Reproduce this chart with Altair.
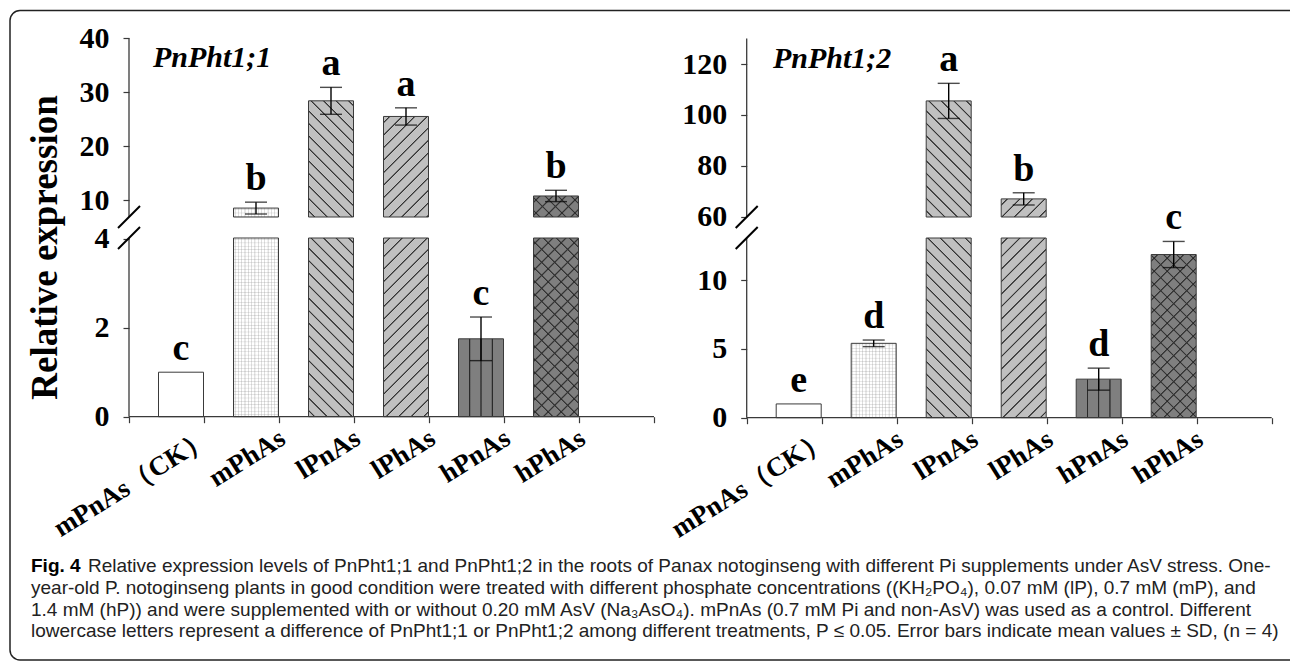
import altair as alt
import pandas as pd

# ---------------- data ----------------
treatments = ["mPnAs（CK）", "mPhAs", "lPnAs", "lPhAs", "hPnAs", "hPhAs"]
patterns = ["plain", "dots", "back", "fwd", "vert", "cross"]

pht11_mean = [1.0, 8.5, 28.4, 25.5, 1.75, 10.75]
pht11_sd = [0.0, 1.1, 2.5, 1.6, 0.49, 1.05]
pht11_letter = ["c", "b", "a", "a", "c", "b"]

pht12_mean = [1.0, 5.4, 105.5, 67.0, 2.8, 11.85]
pht12_sd = [0.0, 0.24, 6.9, 2.4, 0.8, 0.95]
pht12_letter = ["e", "d", "a", "b", "d", "c"]

genes = ["PnPht1;1", "PnPht1;2"]
pht11_ticks_upper = [10, 20, 30, 40]
pht11_ticks_lower = [0, 2, 4]
pht12_ticks_upper = [60, 80, 100, 120]
pht12_ticks_lower = [0, 5, 10]
y_title = "Relative expression"

caption_head = "Fig. 4"
caption_lines = [
    "Relative expression levels of PnPht1;1 and PnPht1;2 in the roots of Panax notoginseng with different Pi supplements under AsV stress. One-",
    "year-old P. notoginseng plants in good condition were treated with different phosphate concentrations ((KH₂PO₄), 0.07 mM (lP), 0.7 mM (mP), and",
    "1.4 mM (hP)) and were supplemented with or without 0.20 mM AsV (Na₃AsO₄). mPnAs (0.7 mM Pi and non-AsV) was used as a control. Different",
    "lowercase letters represent a difference of PnPht1;1 or PnPht1;2 among different treatments, P ≤ 0.05. Error bars indicate mean values ± SD, (n = 4)",
]

# ---------------- layout / style ----------------
W, H = 1290, 662
STEP = 75
SLOTS = treatments + [" "]
N_BANDS = 16
BAR_W = 45
BAR_DX = 14.5
CUT_TOP_PX = 217   # lower edge of the upper segment
CUT_BOT_PX = 238   # upper edge of the lower segment
SERIF = "Liberation Serif"
SANS = "Liberation Sans"
CAP_SIZE = 19
EDGE = "#3a3a3a"
LIGHT = "#c0c0c0"
DARK = "#7f7f7f"
HATCH = "#333333"
CLEAR = "rgba(0,0,0,0)"


def stripe_stops(total, period, phase, bg, fg, core, half):
    stops = [{"offset": 0.0, "color": bg}]
    c = phase
    while c - half < total:
        for pos, col in ((c - half, bg), (c - core, fg), (c + core, fg), (c + half, bg)):
            if 0 < pos < total:
                stops.append({"offset": round(pos / total, 5), "color": col})
        c += period
    stops.append({"offset": 1.0, "color": bg})
    return stops


def diag_fill(w, h, period, bg, fg, direction):
    a = w * (w + h) / (w * w + h * h)
    if direction == "back":
        x1, y1, x2, y2 = 0, 1, a, 1 - a * h / w
    else:
        x1, y1, x2, y2 = 0, 0, a, a * h / w
    return {"gradient": "linear", "x1": x1, "y1": y1, "x2": round(x2, 5), "y2": round(y2, 5),
            "stops": stripe_stops(w + h, period, period / 2, bg, fg, 0.4, 1.2)}


def straight_fill(length, period, phase, bg, fg, vertical_lines, core=0.3, half=0.9):
    return {"gradient": "linear", "x1": 0, "y1": 0,
            "x2": 1 if vertical_lines else 0, "y2": 0 if vertical_lines else 1,
            "stops": stripe_stops(length, period, phase, bg, fg, core, half)}


def fills_for(pattern, w, h):
    if pattern == "plain":
        return ["white"]
    if pattern == "dots":
        return [straight_fill(h, 3.3, 1.6, "white", "#e2e2e2", False, 0.15, 0.7),
                straight_fill(w, 3.3, 1.6, CLEAR, "rgba(150,150,150,0.30)", True, 0.15, 0.7)]
    if pattern == "back":
        return [diag_fill(w, h, 12.5, LIGHT, HATCH, "back")]
    if pattern == "fwd":
        return [diag_fill(w, h, 12.5, LIGHT, HATCH, "fwd")]
    if pattern == "vert":
        return [straight_fill(w, 11.25, 11.25, DARK, "#2a2a2a", True)]
    return [diag_fill(w, h, 13, DARK, HATCH, "back"), diag_fill(w, h, 13, CLEAR, HATCH, "fwd")]


panels = [
    dict(gene=genes[0], mean=pht11_mean, sd=pht11_sd, letter=pht11_letter, x0=129.0,
         up=(40, 38.3, 5.39), lo=(0, 416.7, 44.5), up_ticks=pht11_ticks_upper,
         lo_ticks=pht11_ticks_lower, up_top=40, title=True, gene_xy=(153, 67)),
    dict(gene=genes[1], mean=pht12_mean, sd=pht12_sd, letter=pht12_letter, x0=746.7,
         up=(120, 64.0, 2.545), lo=(0, 417.7, 13.77), up_ticks=pht12_ticks_upper,
         lo_ticks=pht12_ticks_lower, up_top=130, title=False, gene_xy=(773, 68)),
]

dummy = pd.DataFrame({"k": [0]})


def px_to_val(seg, p):
    va, pa, k = seg
    return va + (pa - p) / k


def build_panel(p, tag):
    n = len(SLOTS)
    po = (W / STEP - N_BANDS) / 2
    n_pre = int(p["x0"] // STEP)
    start = p["x0"] - n_pre * STEP
    n_post = N_BANDS - n - n_pre
    domain = [f"{tag}pre{i}" for i in range(n_pre)] + SLOTS + [f"{tag}post{i}" for i in range(n_post)]
    xs = alt.Scale(domain=domain, paddingInner=0, paddingOuter=round(po, 5),
                   align=round(start / (W - STEP * N_BANDS), 5))
    xaxis = alt.Axis(orient="bottom", offset=p["lo"][1] - H, domain=False, grid=False,
                     values=SLOTS, tickBand="extent", tickSize=6, tickColor=EDGE, tickWidth=1.2,
                     labelAngle=-32, labelAlign="right", labelBaseline="top",
                     labelFont=SERIF, labelFontWeight="bold", labelFontSize=27,
                     labelColor="black", labelPadding=2, labelOffset=34,
                     labelOverlap=False)

    def X():
        return alt.X("cat:N", scale=xs, axis=xaxis, title=None)

    lower_max = px_to_val(p["lo"], CUT_BOT_PX)
    upper_min = px_to_val(p["up"], CUT_TOP_PX)

    df = pd.DataFrame({"cat": treatments, "mean": p["mean"], "sd": p["sd"],
                       "letter": p["letter"], "pattern": patterns})
    df["hi"] = df["mean"] + df["sd"]
    df["lo_err"] = df["mean"] - df["sd"]
    df["ltop"] = df["mean"].clip(upper=lower_max)
    df["seg"] = ["up" if m > lower_max else "lo" for m in df["mean"]]

    groups = []
    for seg in ("up", "lo"):
        va, pa, k = p[seg]
        ys = alt.Scale(domain=[va - (H - pa) / k, va + pa / k], nice=False, zero=False)
        ticks = p["up_ticks"] if seg == "up" else p["lo_ticks"]
        ax_kw = dict(orient="left", offset=-p["x0"], values=ticks, domain=False, grid=False,
                     tickSize=6, tickColor=EDGE, tickWidth=1.2, labelFont=SERIF,
                     labelFontWeight="bold", labelFontSize=30, labelColor="black",
                     labelPadding=14)
        use_title = p["title"] and seg == "lo"
        if use_title:
            ax_kw.update(titleFont=SERIF, titleFontWeight="bold", titleFontSize=37,
                         titleColor="black", titleX=-84, titleY=247, titleBaseline="middle",
                         titleAlign="center", titleAngle=-90)
        yaxis = alt.Axis(**ax_kw)
        ttl = y_title if use_title else None

        def Y(f):
            return alt.Y(f, type="quantitative", scale=ys, axis=yaxis, title=ttl)

        def YD(v):
            return alt.YDatum(v, scale=ys, axis=yaxis, title=ttl)

        layers = []
        for i, c in enumerate(treatments):
            m = p["mean"][i]
            if seg == "lo":
                top_v, bot_v = min(m, lower_max), 0
                yfield = "ltop"
            else:
                if m <= lower_max:
                    continue
                top_v, bot_v = m, upper_min
                yfield = "mean"
            h = (top_v - bot_v) * k
            fl = fills_for(patterns[i], BAR_W, h)
            base = alt.Chart(df).transform_filter(alt.datum.cat == c)
            for j, f in enumerate(fl):
                kw = dict(fill=f, width=BAR_W, xOffset=BAR_DX)
                if j == len(fl) - 1:
                    kw.update(stroke=EDGE, strokeWidth=1)
                layers.append(base.mark_bar(**kw).encode(
                    x=X(), y=Y(yfield), y2=alt.Y2Datum(bot_v)))
        eb = alt.Chart(df).transform_filter((alt.datum.sd > 0) & (alt.datum.seg == seg))
        layers.append(eb.mark_rule(color="black", strokeWidth=1.4, xOffset=BAR_DX).encode(
            x=X(), y=Y("lo_err"), y2="hi:Q"))
        for f in ("hi", "lo_err"):
            layers.append(eb.mark_tick(color="black", thickness=1.4, size=22, xOffset=BAR_DX).encode(
                x=X(), y=Y(f)))
        layers.append(alt.Chart(df).transform_filter(alt.datum.seg == seg).mark_text(
            font=SERIF, fontWeight="bold", fontSize=38, color="black", baseline="alphabetic",
            dy=-12, xOffset=BAR_DX).encode(x=X(), y=Y("hi"), text="letter:N"))
        if seg == "up":
            y_a, y_b = p["up_top"], upper_min
        else:
            y_a, y_b = 0, lower_max
        layers.append(alt.Chart(dummy).mark_rule(color=EDGE, strokeWidth=1.3).encode(
            x=alt.value(p["x0"]), y=YD(y_a), y2=alt.Y2Datum(y_b)))
        if seg == "lo":
            layers.append(alt.Chart(dummy).mark_rule(color=EDGE, strokeWidth=1.3).encode(
                x=alt.value(p["x0"]), x2=alt.value(p["x0"] + STEP * n), y=YD(0)))
        groups.append(alt.layer(*layers))

    panel = alt.layer(*groups).resolve_scale(y="independent")

    deco = []
    for cut in (CUT_TOP_PX, CUT_BOT_PX):
        deco.append(alt.Chart(dummy).mark_rule(color="black", strokeWidth=2).encode(
            x=alt.value(p["x0"] - 11), x2=alt.value(p["x0"] + 11),
            y=alt.value(cut + 11), y2=alt.value(cut - 11)))
    deco.append(alt.Chart(pd.DataFrame({"g": [p["gene"]]})).mark_text(
        font=SERIF, fontStyle="italic", fontWeight="bold", fontSize=30, color="black",
        align="left", baseline="alphabetic").encode(
        x=alt.value(p["gene_xy"][0]), y=alt.value(p["gene_xy"][1]), text="g:N"))
    return panel, deco


left, left_deco = build_panel(panels[0], "L")
right, right_deco = build_panel(panels[1], "R")

cap_layers = []
cap_layers.append(alt.Chart(pd.DataFrame({"t": [caption_head]})).mark_text(
    font=SANS, fontWeight="bold", fontSize=CAP_SIZE, color="black", align="left",
    baseline="alphabetic").encode(x=alt.value(31), y=alt.value(572.3), text="t:N"))
for i, line in enumerate(caption_lines):
    cap_layers.append(alt.Chart(pd.DataFrame({"t": [line]})).mark_text(
        font=SANS, fontSize=CAP_SIZE, color="#222222", align="left", baseline="alphabetic").encode(
        x=alt.value(88 if i == 0 else 31), y=alt.value(572.3 + 21.7 * i), text="t:N"))

border = alt.Chart(dummy).mark_rect(fill=CLEAR, stroke="#222222", strokeWidth=1.5,
                                    cornerRadius=10).encode(
    x=alt.value(10), x2=alt.value(1300), y=alt.value(10.5), y2=alt.value(660))

chart = alt.layer(left, right, *left_deco, *right_deco, *cap_layers, border).resolve_scale(
    x="independent", y="independent"
).properties(
    width=W, height=H, autosize=alt.AutoSizeParams(type="none"), padding=0,
    background="white"
).configure_view(stroke=None)

chart.save("out.html", embed_options={"renderer": "svg", "actions": False})
